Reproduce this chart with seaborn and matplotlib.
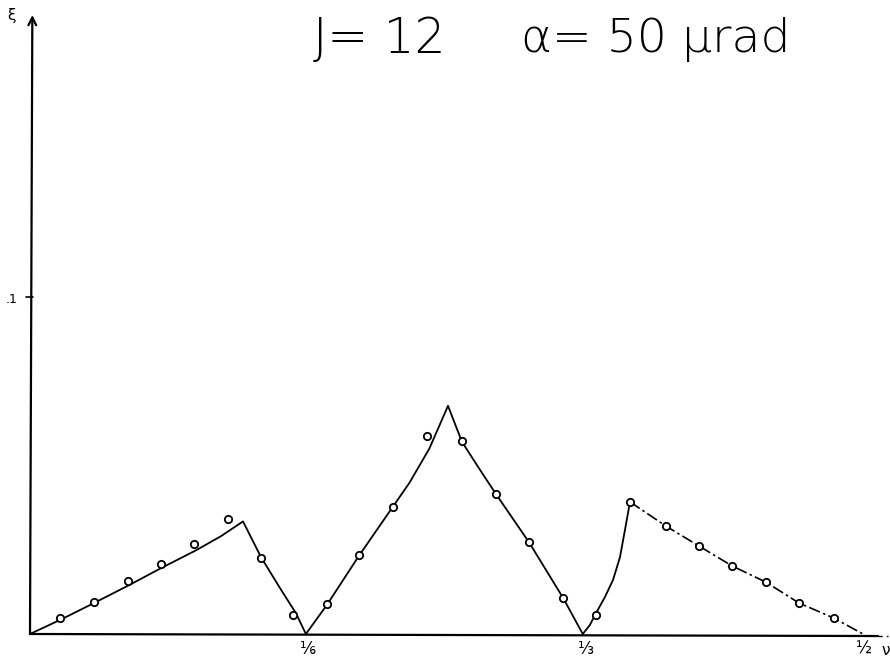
import numpy as np
import pandas as pd
import matplotlib
matplotlib.use("Agg")
import matplotlib.pyplot as plt
import seaborn as sns

# ---- data ----
# measured points (open circles)
nu_pts = [0.0186, 0.0390, 0.0594, 0.0791, 0.0989, 0.1193, 0.1391, 0.1583,
          0.1787, 0.1978, 0.2182, 0.2386, 0.2596, 0.2800, 0.2998, 0.3201,
          0.3399, 0.3603, 0.3819, 0.4017, 0.4215, 0.4418, 0.4616, 0.4826]
xi_pts = [0.0047, 0.0095, 0.0157, 0.0208, 0.0267, 0.0341, 0.0226, 0.0056,
          0.0089, 0.0234, 0.0377, 0.0588, 0.0573, 0.0415, 0.0273, 0.0107,
          0.0056, 0.0392, 0.0320, 0.0261, 0.0202, 0.0154, 0.0092, 0.0047]

# theory curve, solid part
nu_curve = [0.0006, 0.0200, 0.0390, 0.0600, 0.0790, 0.1000, 0.1150, 0.1283,
            0.1391, 0.1500, 0.1600, 0.1660,
            0.1787, 0.1978, 0.2182, 0.2280, 0.2400, 0.2512,
            0.2596, 0.2700, 0.2800, 0.2998, 0.3201, 0.3320,
            0.3363, 0.3393, 0.3453, 0.3501, 0.3543, 0.3573, 0.3603]
xi_curve = [0.0000, 0.0045, 0.0092, 0.0145, 0.0195, 0.0248, 0.0290, 0.0334,
            0.0228, 0.0140, 0.0062, 0.0000,
            0.0087, 0.0232, 0.0378, 0.0448, 0.0550, 0.0677,
            0.0570, 0.0490, 0.0415, 0.0272, 0.0108, 0.0000,
            0.0027, 0.0056, 0.0110, 0.0160, 0.0228, 0.0309, 0.0392]

# theory curve, dash-dot part
nu_dash = [0.3603, 0.3819, 0.4017, 0.4215, 0.4418, 0.4616, 0.4826, 0.5000]
xi_dash = [0.0392, 0.0320, 0.0261, 0.0202, 0.0154, 0.0092, 0.0047, 0.0000]

tick_pos = [1/6, 1/3, 1/2]
tick_lab = ["⅙", "⅓", "½"]

df_pts = pd.DataFrame({"nu": nu_pts, "xi": xi_pts})
df_cur = pd.DataFrame({"nu": nu_curve, "xi": xi_curve})
df_dash = pd.DataFrame({"nu": nu_dash, "xi": xi_dash})

sns.set_style("white")
plt.rcParams['font.family'] = ['DejaVu Sans']

fig = plt.figure(figsize=(8.9, 6.66), dpi=100)
ax = fig.add_axes([0, 0, 1, 1])

# pixel mapping: nu=0 -> x=29px, 1/6 -> 307px ; xi=0 -> y=634px, 0.1 -> 297px
sx = 1668.0
sy = 3370.0
ax.set_xlim(-29 / sx, (890 - 29) / sx)
ax.set_ylim(-(666 - 634) / sy, 634 / sy)
ax.axis("off")

sns.lineplot(data=df_cur, x="nu", y="xi", sort=False, estimator=None,
             color="black", lw=1.3, ax=ax)
sns.lineplot(data=df_dash, x="nu", y="xi", sort=False, estimator=None,
             color="black", lw=1.2, ax=ax)
ax.lines[-1].set_dashes([7, 2, 1.5, 2])
sns.scatterplot(data=df_pts, x="nu", y="xi", marker="o", s=28,
                facecolor="white", edgecolor="black", linewidth=1.3,
                ax=ax, zorder=5)

# axes drawn by hand
ax.annotate("", xy=(0.0020, 619 / sy), xytext=(0.0006, 0.0),
            arrowprops=dict(arrowstyle="->", lw=1.6, color="black",
                            mutation_scale=14, shrinkA=0, shrinkB=0))
ax.annotate("", xy=(0.509, -0.0006), xytext=(0.0006, 0.0),
            arrowprops=dict(arrowstyle="-", lw=1.6, color="black",
                            shrinkA=0, shrinkB=0))
ax.plot([0.509, 0.515], [-0.0006, -0.0006], color="black", lw=1.0,
        ls=(0, (3, 3)))
ax.plot([-0.0015, 0.0025], [0.1, 0.1], color="black", lw=1.2)

ax.text(-0.0105, 0.1 - 0.0008, ".1", fontsize=9, ha="center", va="center",
        color="black")
ax.text(-0.0105, 618 / sy, "ξ", fontsize=11, ha="center", va="center",
        color="black")
for p, lab in zip(tick_pos, tick_lab):
    ax.text(p + 0.0008, -0.0045, lab, fontsize=12, ha="center", va="center",
            color="black")
ax.text(0.5135, -0.0048, "ν", fontsize=11, ha="center", va="center",
        color="black")

ax.text(0.170, 0.1765, "J= 12", fontsize=35, ha="left", va="center",
        color="black", fontweight="light")
ax.text(0.295, 0.1765, "α= 50 μrad", fontsize=34, ha="left", va="center",
        color="black", fontweight="light")

fig.savefig("out.png", dpi=100, facecolor="white")
